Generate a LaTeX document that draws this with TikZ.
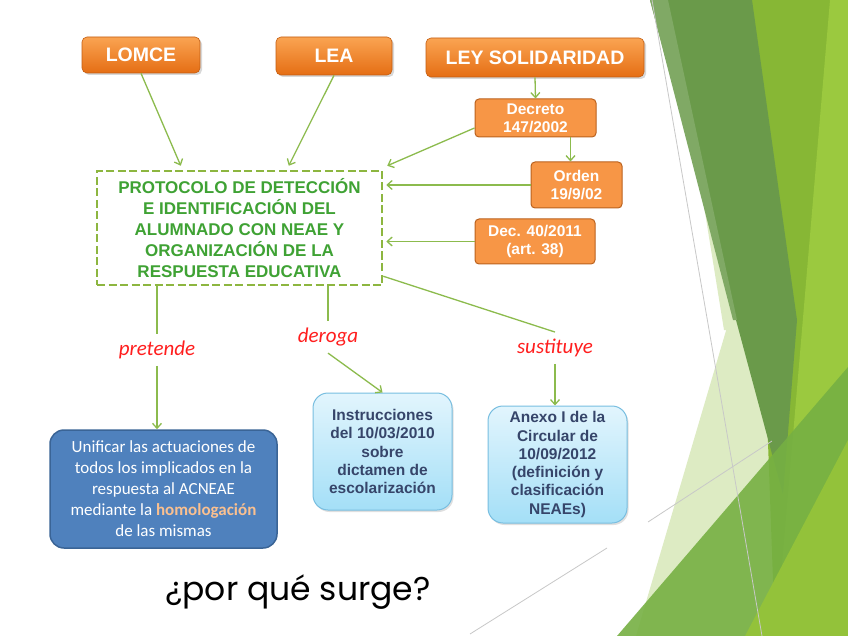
\documentclass[tikz,border=0pt]{standalone}
\usepackage{fontspec}
\setmainfont{Liberation Sans}
\newfontfamily\calibri{Carlito}
\newfontfamily\handfont{Poppins}
\usetikzlibrary{arrows.meta,shadows,calc,positioning}
\definecolor{leyTop}{HTML}{FAA452}
\definecolor{leyBot}{HTML}{E56E14}
\definecolor{normaFill}{HTML}{F79646}
\definecolor{normaLine}{HTML}{BB621E}
\definecolor{protText}{HTML}{3FA234}
\definecolor{protDash}{HTML}{8DB640}
\definecolor{arrGreen}{HTML}{8CBB4D}
\definecolor{verbRed}{HTML}{FF1E1E}
\definecolor{uniFill}{HTML}{4F81BD}
\definecolor{uniLine}{HTML}{3A6496}
\definecolor{homoOrange}{HTML}{FAC090}
\definecolor{skyTop}{HTML}{E2F5FD}
\definecolor{skyBot}{HTML}{A4DFF7}
\definecolor{skyLine}{HTML}{78BEE0}
\definecolor{skyText}{HTML}{36456A}
\definecolor{facetDark}{HTML}{6A9A4A}
\definecolor{facetMid}{HTML}{87B735}
\definecolor{facetLight}{HTML}{9BC93F}
\definecolor{facetPale}{HTML}{DDEBC3}
\definecolor{facetLow}{HTML}{76B043}
\definecolor{facetLime}{HTML}{93C23A}
\definecolor{facetRule}{HTML}{C8C8C8}

\begin{document}
\begin{tikzpicture}[x=1pt,y=-1pt,
    ley/.style={rounded corners=5pt, top color=leyTop, bottom color=leyBot,
      draw=leyBot!85!black, line width=0.6pt, text=white, inner sep=0pt,
      font=\bfseries\fontsize{19.5}{22}\selectfont,
      drop shadow={shadow xshift=2pt, shadow yshift=-2pt, opacity=0.3}},
    norma/.style={rounded corners=4pt, fill=normaFill, draw=normaLine,
      line width=1pt, text=white, align=center, inner sep=0pt,
      font=\bfseries\fontsize{15.5}{18}\selectfont},
    protocolo/.style={draw=protDash, line width=2.5pt, dash pattern=on 8pt off 3.5pt,
      text=protText, align=center, inner sep=0pt,
      minimum width=285pt, minimum height=114pt,
      font=\bfseries\fontsize{17}{21}\selectfont},
    verbo/.style={text=verbRed, inner sep=0pt, outer sep=7pt,
      font=\calibri\itshape\fontsize{21}{24}\selectfont},
    unifica/.style={rounded corners=14pt, fill=uniFill, draw=uniLine,
      line width=1.5pt, text=white, align=center, inner sep=0pt,
      minimum width=227pt, minimum height=118pt,
      font=\calibri\fontsize{17}{21}\selectfont},
    cielo/.style={rounded corners=15pt, top color=skyTop, bottom color=skyBot,
      draw=skyLine, line width=1pt, text=skyText, align=center, inner sep=0pt,
      minimum width=139pt, minimum height=117pt,
      font=\bfseries\fontsize{15.5}{18.3}\selectfont,
      drop shadow={shadow xshift=1.5pt, shadow yshift=-2pt, opacity=0.25}},
    arr/.style={draw=arrGreen, line width=1.3pt, -{Straight Barb[length=5pt,width=9pt]}},
    enlace/.style={draw=arrGreen, line width=1.3pt}]
  \useasboundingbox (0,0) rectangle (848,636);
  \fill[white] (0,0) rectangle (848,636);
  \fill[facetPale] (738,290) -- (636,636) -- (830,636) -- cycle;
  \fill[facetPale] (703,200) -- (741,330) -- (724,330) -- cycle;
  \fill[facetMid] (752,0) -- (848,0) -- (848,636) -- (775,636) -- cycle;
  \fill[facetLight] (830,0) -- (848,0) -- (848,636) -- (776,636) -- cycle;
  \fill[facetDark] (650,0) -- (752,0) -- (797,320) -- (783,495) -- cycle;
  \fill[facetDark!85!white] (650,0) -- (668,0) -- (737,320) -- (733,320) -- cycle;
  \fill[facetLow, opacity=0.9] (617,636) -- (848,367) -- (848,636) -- cycle;
  \fill[facetLime] (745,636) -- (848,440) -- (848,636) -- cycle;
  \draw[facetRule, line width=0.8pt] (652,0) -- (762,636);
  \draw[facetRule, line width=0.8pt] (470,634) -- (607,548);
  \draw[facetRule, line width=0.8pt] (648,522) -- (772,441);

  \node[ley, minimum width=118pt, minimum height=36pt] (lomce) at (141,55) {LOMCE};
  \node[ley, minimum width=116pt, minimum height=38pt] (lea) at (334,56) {LEA};
  \node[ley, minimum width=218pt, minimum height=39pt] (ley) at (535,57.5) {LEY SOLIDARIDAD};
  \node[norma, minimum width=121pt, minimum height=38pt] (decreto) at (535.5,118) {Decreto\\147/2002};
  \node[norma, minimum width=91pt, minimum height=46pt] (orden) at (576.5,185) {Orden\\19/9/02};
  \node[norma, minimum width=120pt, minimum height=45pt] (dec40) at (535,241.5) {Dec. 40/2011\\(art. 38)};
  \node[protocolo] (prot) at (239.5,228) {PROTOCOLO DE DETECCIÓN\\E IDENTIFICACIÓN DEL\\ALUMNADO CON NEAE Y\\ORGANIZACIÓN DE LA\\RESPUESTA EDUCATIVA};
  \node[verbo] (pre) at (157,350) {pretende};
  \node[verbo] (der) at (328,337) {deroga};
  \node[verbo] (sus) at (555,348) {sustituye};
  \node[unifica] (uni) at (163.5,489) {Unificar las actuaciones de\\todos los implicados en la\\respuesta al ACNEAE\\mediante la \textcolor{homoOrange}{\bfseries homologación}\\de las mismas};
  \node[cielo] (instr) at (382.5,451.5) {Instrucciones\\del 10/03/2010\\sobre\\dictamen de\\escolarización};
  \node[cielo] (anexo) at (557.5,464.5) {Anexo I de la\\Circular de\\10/09/2012\\(definición y\\clasificación\\NEAEs)};
  \node[font=\handfont\fontsize{33}{36}\selectfont] (surge) at (298,592) {¿por qué surge?};

  \coordinate (dd) at ($(decreto.south east)+(-26,0)$);
  \draw[arr] (lomce.south) -- ([xshift=85pt,yshift=4pt]prot.north west);
  \draw[arr] (lea.south) -- ([xshift=193pt,yshift=4pt]prot.north west);
  \draw[arr] (ley.south) -- (decreto.north);
  \draw[arr] (dd) -- (dd |- orden.north);
  \draw[arr] ([yshift=-10pt]decreto.west) -- ([xshift=4pt,yshift=4pt]prot.north east);
  \draw[arr] (orden.west) -- ($(prot.east |- orden.west)+(3,0)$);
  \draw[arr] (dec40.west) -- ($(prot.east |- dec40.west)+(3,0)$);
  \draw[enlace] (prot.south -| pre) -- (pre);
  \draw[arr] (pre) -- (pre |- uni.north);
  \draw[enlace] (prot.south -| der) -- (der);
  \draw[arr] (der.south) -- (instr.north);
  \draw[enlace] ([yshift=10pt]prot.south east) -- (sus.north);
  \draw[arr] (sus.south) -- (sus.south |- anexo.north);
\end{tikzpicture}
\end{document}
